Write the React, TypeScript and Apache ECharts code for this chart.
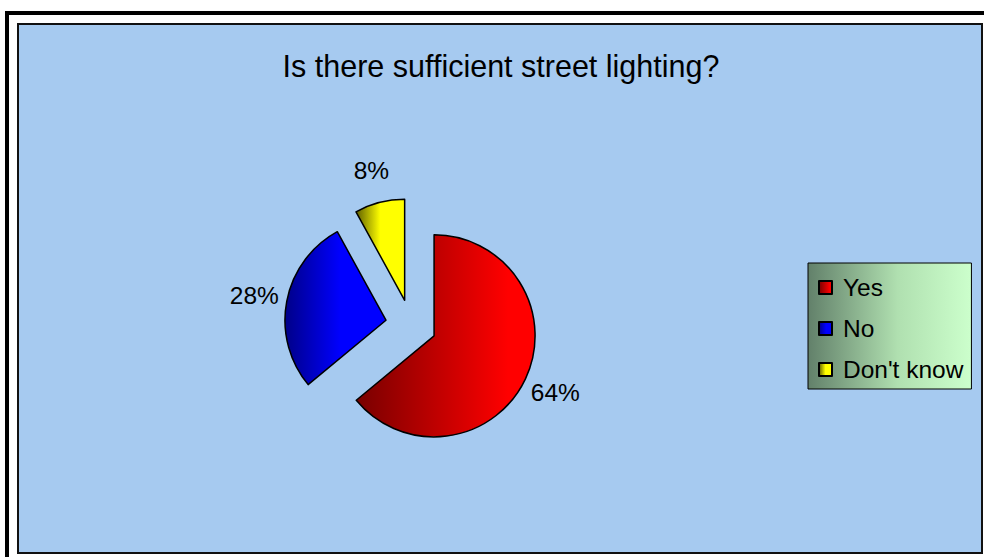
import React, { useEffect, useRef } from "react";
import * as echarts from "echarts";

const title = "Is there sufficient street lighting?";
const categories = ["Yes", "No", "Don't know"];
const values = [64, 28, 8];
const darkColors = ["#780000", "#000088", "#5e5e00"];
const brightColors = ["#ff0000", "#0000ff", "#ffff00"];
const brightStops = [0.85, 0.55, 0.5];

const FONT = "'Liberation Sans', Arial, sans-serif";

export default function App() {
  const ref = useRef<HTMLDivElement>(null);
  useEffect(() => {
    if (!ref.current) return;
    const chart = echarts.init(ref.current, null, { renderer: "svg" });
    const grad = (i: number) => ({
      type: "linear",
      x: 0,
      y: 0,
      x2: 1,
      y2: 0,
      colorStops: [
        { offset: 0, color: darkColors[i] },
        { offset: brightStops[i], color: brightColors[i] },
        { offset: 1, color: brightColors[i] },
      ],
    });
    const mainData = categories.map((c, i) => ({
      name: c,
      value: values[i],
      selected: true,
      itemStyle: { color: grad(i) },
    }));
    const labelData = categories.map((c, i) => ({
      name: c,
      value: values[i],
      selected: true,
    }));
    chart.setOption({
      animation: false,
      backgroundColor: "#ffffff",
      graphic: [
        {
          type: "rect",
          z: -10,
          shape: { x: 7, y: 13, width: 990, height: 560 },
          style: { fill: "#ffffff", stroke: "#000000", lineWidth: 4 },
        },
        {
          type: "rect",
          z: -9,
          shape: { x: 18, y: 24, width: 964, height: 529 },
          style: { fill: "#a6caf0", stroke: "#111111", lineWidth: 2 },
        },
      ],
      title: {
        text: title,
        left: 496,
        top: 45,
        textAlign: "center",
        textStyle: {
          fontFamily: FONT,
          fontSize: 30.5,
          fontWeight: "normal",
          color: "#000000",
        },
      },
      legend: {
        orient: "vertical",
        left: 808,
        top: 263,
        data: categories,
        itemWidth: 13,
        itemHeight: 13,
        itemGap: 16,
        icon: "rect",
        padding: [12, 8, 7, 10],
        borderColor: "#000000",
        borderWidth: 1,
        backgroundColor: {
          type: "linear",
          x: 0,
          y: 0,
          x2: 1,
          y2: 0,
          colorStops: [
            { offset: 0, color: "#62806a" },
            { offset: 0.55, color: "#b0e0b0" },
            { offset: 1, color: "#ccffcc" },
          ],
        },
        selectedMode: false,
        textStyle: {
          fontFamily: FONT,
          fontSize: 24.5,
          color: "#000000",
          padding: [0, 0, 0, 6],
        },
      },
      series: [
        {
          type: "pie",
          center: [411, 325],
          radius: [0, 101],
          startAngle: 90,
          clockwise: true,
          selectedMode: "multiple",
          selectedOffset: 25.5,
          silent: true,
          label: { show: false },
          labelLine: { show: false },
          itemStyle: { borderColor: "#000000", borderWidth: 1.5 },
          emphasis: { disabled: true },
          data: mainData,
        },
        {
          type: "pie",
          center: [411, 325],
          radius: [101, 161],
          startAngle: 90,
          clockwise: true,
          selectedMode: "multiple",
          selectedOffset: 25.5,
          silent: true,
          itemStyle: { color: "rgba(0,0,0,0)" },
          emphasis: { disabled: true },
          label: {
            show: true,
            position: "inside",
            formatter: "{c}%",
            fontFamily: FONT,
            fontSize: 24.5,
            color: "#000000",
          },
          labelLine: { show: false },
          data: labelData,
        },
      ],
    });
    return () => chart.dispose();
  }, []);
  return (
    <div
      ref={ref}
      style={{ position: "fixed", left: 0, top: 0, width: 984, height: 557 }}
    />
  );
}
